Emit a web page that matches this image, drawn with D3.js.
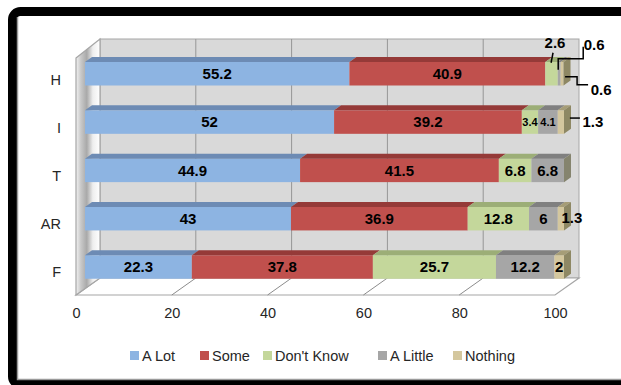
<!DOCTYPE html>
<html><head><meta charset="utf-8">
<script src="https://cdn.jsdelivr.net/npm/d3@7"></script>
<style>body{margin:0;background:#fff}svg{display:block}</style>
</head><body><svg id="c" width="621" height="385"></svg>
<script>
// ---- data ----
const categories = ["H", "I", "T", "AR", "F"];
const seriesNames = ["A Lot", "Some", "Don't Know", "A Little", "Nothing"];
const aLot     = [55.2, 52, 44.9, 43, 22.3];
const some     = [40.9, 39.2, 41.5, 36.9, 37.8];
const dontKnow = [2.6, 3.4, 6.8, 12.8, 25.7];
const aLittle  = [0.6, 4.1, 6.8, 6, 12.2];
const nothing  = [0.6, 1.3, 0, 1.3, 2];
const xTicks = [0, 20, 40, 60, 80, 100];

// ---- styles ----
const frontColors = ["#8db4e2", "#c0504d", "#c4d79b", "#a6a6a6", "#d4c79e"];
const topColors   = ["#6d8bb4", "#953a38", "#9cae77", "#808080", "#a69d77"];
const sideColors  = ["#5f7ca3", "#80302e", "#8a9a66", "#85846e", "#8e8864"];

const seriesVals = [aLot, some, dontKnow, aLittle, nothing];
const svg = d3.select("#c");
const FONT = "'Liberation Sans', Arial, sans-serif";

// ---- frame ----
svg.append("rect").attr("x", 12.5).attr("y", 11.5).attr("width", 640).attr("height", 373)
  .attr("rx", 8).attr("fill", "none").attr("stroke", "#000").attr("stroke-width", 9);
svg.append("path").attr("d", "M17.5,17 V379.5 H621").attr("fill", "none")
  .attr("stroke", "#9a9a9a").attr("stroke-width", 1.5);

// ---- 3D geometry ----
const xFront = d3.scaleLinear().domain([0, 100]).range([76, 555]);
const DX = 24, DY = 17;
const floorY = 295, backTop = 39;
const xBack = v => xFront(v) + DX;
const xBar = d3.scaleLinear().domain([0, 100]).range([85, 564]);
const yBar = d3.scalePoint().domain(categories).range([73.75, 267]);
const yLab = d3.scalePoint().domain(categories).range([80, 272]);
const barH = 23.5, bdx = 7, bdy = 5;

// back wall
svg.append("rect").attr("x", xBack(0)).attr("y", backTop)
  .attr("width", xBack(100) - xBack(0)).attr("height", floorY - DY - backTop)
  .attr("fill", "#d9d9d9").attr("stroke", "#a6a6a6").attr("stroke-width", 1);
svg.append("g").selectAll("line").data(xTicks.slice(1, -1)).join("line")
  .attr("x1", d => xBack(d)).attr("x2", d => xBack(d))
  .attr("y1", backTop).attr("y2", floorY - DY)
  .attr("stroke", "#969696").attr("stroke-width", 1);

// floor
svg.append("path")
  .attr("d", `M${xFront(0)},${floorY} L${xFront(100)},${floorY} L${xBack(100)},${floorY - DY} L${xBack(0)},${floorY - DY} Z`)
  .attr("fill", "#fff").attr("stroke", "#a6a6a6").attr("stroke-width", 1.2);
svg.append("g").selectAll("line").data(xTicks.slice(1, -1)).join("line")
  .attr("x1", d => xFront(d)).attr("x2", d => xBack(d))
  .attr("y1", floorY).attr("y2", floorY - DY)
  .attr("stroke", "#8c8c8c").attr("stroke-width", 1);

// side wall
const defs = svg.append("defs");
const g1 = defs.append("linearGradient").attr("id", "sw").attr("x1", 0).attr("x2", 1).attr("y1", 0).attr("y2", 0);
[[0, "#f2f2f2"], [0.2, "#c9c9c9"], [0.45, "#a9a9a9"], [0.7, "#eeeeee"], [1, "#ffffff"]]
  .forEach(([o, c]) => g1.append("stop").attr("offset", o).attr("stop-color", c));
svg.append("path")
  .attr("d", `M${xFront(0)},${backTop + DY + 2} L${xBack(0)},${backTop} L${xBack(0)},${floorY - DY} L${xFront(0)},${floorY} Z`)
  .attr("fill", "url(#sw)").attr("stroke", "#a6a6a6").attr("stroke-width", 1.2);

// ---- bars ----
const rows = categories.map((c, i) => {
  let cum = 0;
  const segs = seriesVals.map((arr, s) => {
    const v = arr[i];
    const seg = { cat: c, s, v, x0: cum, x1: cum + v };
    cum += v;
    return seg;
  });
  return { cat: c, segs };
});

const barsG = svg.append("g");
rows.forEach(r => {
  const cy = yBar(r.cat);
  const yT = cy - barH / 2, yB = cy + barH / 2;
  const g = barsG.append("g");
  const segs = r.segs.filter(d => d.v > 0);
  g.selectAll("rect.front").data(segs).join("rect").attr("class", "front")
    .attr("x", d => xBar(d.x0)).attr("y", yT)
    .attr("width", d => xBar(d.x1) - xBar(d.x0)).attr("height", barH)
    .attr("fill", d => frontColors[d.s]);
  g.selectAll("path.top").data(segs).join("path").attr("class", "top")
    .attr("d", d => `M${xBar(d.x0)},${yT} L${xBar(d.x0) + bdx},${yT - bdy} L${xBar(d.x1) + bdx},${yT - bdy} L${xBar(d.x1)},${yT} Z`)
    .attr("fill", d => topColors[d.s]);
  const last = segs[segs.length - 1];
  g.append("path")
    .attr("d", `M${xBar(last.x1)},${yT} L${xBar(last.x1) + bdx},${yT - bdy} L${xBar(last.x1) + bdx},${yB - bdy} L${xBar(last.x1)},${yB} Z`)
    .attr("fill", sideColors[last.s]);
});

// ---- value labels ----
const callouts = {
  "H-2": { lx: 3.5, ly: -31, path: [[-0.5, -11], [1.5, -21]] },
  "H-3": { lx: 35, ly: -29, path: [[-1, -4], [-1, -15], [24, -15], [24, -27]] },
  "H-4": { lx: 39, ly: 16, path: [[3, 3], [15, 3], [15, 11], [26, 11]] },
  "I-4": { lx: 32, ly: 0, path: [[9, -4], [19, -4]] },
  "AR-4": { lx: 11, ly: -1, path: null }
};
const labG = svg.append("g").attr("font-family", FONT).attr("font-weight", "bold").attr("fill", "#000");
rows.forEach(r => {
  const cy = yBar(r.cat);
  r.segs.filter(d => d.v > 0).forEach(d => {
    const cx = (xBar(d.x0) + xBar(d.x1)) / 2;
    const w = xBar(d.x1) - xBar(d.x0);
    const key = r.cat + "-" + d.s;
    const co = callouts[key];
    const txt = String(d.v);
    if (co) {
      if (co.path) {
        labG.append("path").attr("d", d3.line()(co.path.map(p => [cx + p[0], cy + p[1]])))
          .attr("fill", "none").attr("stroke", "#000").attr("stroke-width", 1.5);
      }
      labG.append("text").attr("x", cx + co.lx).attr("y", cy + co.ly).attr("dy", "0.36em")
        .attr("text-anchor", "middle").attr("font-size", 15).text(txt);
    } else {
      const small = w < 25 && txt.length > 1;
      labG.append("text").attr("x", cx).attr("y", cy).attr("dy", "0.36em")
        .attr("text-anchor", "middle").attr("font-size", small ? 11 : 15).text(txt);
    }
  });
});

// ---- axes ----
const xAxis = svg.append("g").attr("transform", `translate(0,${floorY})`)
  .call(d3.axisBottom(xFront).tickValues(xTicks).tickSize(0).tickPadding(13).tickFormat(d3.format("d")));
xAxis.select(".domain").remove();
xAxis.selectAll("text").attr("font-family", FONT).attr("font-size", 14.5).attr("fill", "#262626");

const yAxis = svg.append("g").attr("transform", "translate(61,0)")
  .call(d3.axisLeft(yLab).tickSize(0).tickPadding(0));
yAxis.select(".domain").remove();
yAxis.selectAll("text").attr("font-family", FONT).attr("font-size", 14.5).attr("fill", "#262626");

// ---- legend ----
const legendX = [130, 200, 263, 378, 453];
const leg = svg.append("g").attr("font-family", FONT).attr("font-size", 14.5).attr("fill", "#262626");
seriesNames.forEach((n, s) => {
  const lx = legendX[s];
  leg.append("rect").attr("x", lx).attr("y", 351).attr("width", 9).attr("height", 9).attr("fill", frontColors[s]);
  leg.append("text").attr("x", lx + 12).attr("y", 355.5).attr("dy", "0.36em").text(n);
});
</script></body></html>
